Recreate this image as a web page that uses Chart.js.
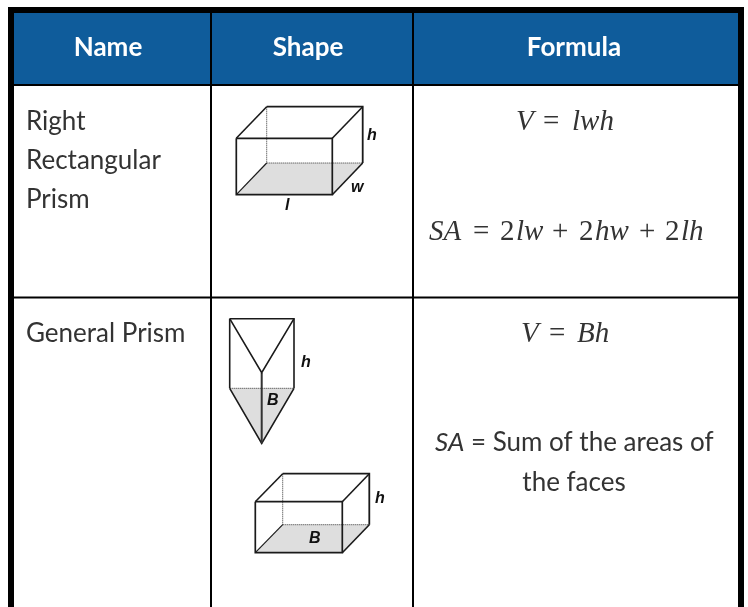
<!DOCTYPE html>
<html>
<head>
<meta charset="utf-8">
<title>Prism formulas</title>
<style>
  html, body { margin: 0; padding: 0; background: #fff; }
  canvas { display: block; }
</style>
<script src="https://cdn.jsdelivr.net/npm/chart.js@4/dist/chart.umd.min.js"></script>
</head>
<body>
<canvas id="chart" width="748" height="607"></canvas>
<script>
// table text
const columnNames = ['Name', 'Shape', 'Formula'];
const columnCenters = [108, 308, 574];
const firstRowNames = ['Right', 'Rectangular', 'Prism'];
const firstRowBaselines = [130, 169, 207.5];
const secondRowName = 'General Prism';

// rules of the table, in picture units
const tableLeft = 14, tableRight = 738, tableTop = 13, headerBottom = 85, rowRule = 297.5, tableBottom = 607;
const columnRules = [211, 413];

// prism 1 (box with l, w, h)
const box1X = [236.3, 332.3, 266.7, 362.7];
const box1Y = [138.3, 194.7, 106.7, 163];
// prism 3 (box with B, h)
const box2X = [255.3, 342.3, 282.7, 369.3];
const box2Y = [501.7, 552.7, 473.7, 524.7];
// prism 2 (triangular): left, middle, right / top, notch, base, apex
const triX = [229.7, 261.7, 294];
const triY = [318.7, 372.7, 388.3, 443.3];

// math and labels: [text, x, baseline]
const mathLetters = [
  ['V', 516, 130], ['lwh', 572, 130],
  ['SA', 429, 239.5], ['lw', 516, 239.5], ['hw', 595, 239.5], ['lh', 681, 239.5],
  ['V', 521, 342], ['Bh', 577, 342]
];
const mathSigns = [
  ['=', 543, 130], ['=', 473, 239.5], ['+', 552, 239.5], ['2', 500, 239.5], ['2', 579, 239.5],
  ['+', 639, 239.5], ['2', 665, 239.5], ['=', 549, 342]
];
const shapeLabels = [
  ['h', 367, 140], ['w', 351, 192], ['l', 285, 210],
  ['h', 301, 367], ['B', 267, 405], ['h', 375, 503], ['B', 309, 543]
];

function pts(xs, ys) { return xs.map((x, i) => ({ x: x, y: ys[i] })); }

function line(points, width, color, dash) {
  return { data: points, showLine: true, fill: false, borderColor: color, borderWidth: width, borderDash: dash || [], pointRadius: 0, borderCapStyle: 'butt' };
}

// fill between a top chain and a bottom chain (needs two datasets in a row)
function band(upper, lower, color) {
  return [
    { data: upper, showLine: true, borderWidth: 0, pointRadius: 0, backgroundColor: color, fill: '+1' },
    { data: lower, showLine: true, borderWidth: 0, pointRadius: 0, fill: false }
  ];
}

function boxLines(X, Y) {
  const ink = '#1a1a1a', hidden = '#333';
  return [
    line(pts([X[0], X[2]], [Y[0], Y[2]]), 1.6, ink),
    line(pts([X[2], X[3], X[3]], [Y[2], Y[2], Y[3]]), 1.8, ink),
    line(pts([X[1], X[3]], [Y[0], Y[2]]), 1.6, ink),
    line(pts([X[0], X[1], X[1], X[0], X[0]], [Y[0], Y[0], Y[1], Y[1], Y[0]]), 1.7, ink),
    line(pts([X[1], X[3]], [Y[1], Y[3]]), 1.6, ink),
    line(pts([X[0], X[2]], [Y[1], Y[3]]), 1.2, ink),
    line(pts([X[2], X[2]], [Y[2], Y[3]]), 1, hidden, [1, 1]),
    line(pts([X[2], X[3]], [Y[3], Y[3]]), 1, hidden, [1, 1])
  ];
}

function boxFill(X, Y) {
  return band(pts([X[0], X[2], X[3]], [Y[1], Y[3], Y[3]]), pts([X[0], X[1], X[3]], [Y[1], Y[1], Y[3]]), '#dedede');
}

// lower index draws on top in Chart.js, so rules come first and fills last
const datasets = [].concat(
  // table rules
  [
    line(pts([tableLeft, tableRight], [headerBottom, headerBottom]), 2, '#000'),
    line(pts([tableLeft, tableRight], [rowRule, rowRule]), 2, '#000'),
    line(pts([columnRules[0], columnRules[0]], [tableTop, tableBottom]), 2, '#000'),
    line(pts([columnRules[1], columnRules[1]], [tableTop, tableBottom]), 2, '#000'),
    line(pts([11, 11], [7, tableBottom]), 6, '#000'),
    line(pts([741, 741], [7, tableBottom]), 6, '#000'),
    line(pts([8, 744], [10, 10]), 6, '#000')
  ],
  // prisms
  boxLines(box1X, box1Y),
  boxLines(box2X, box2Y),
  [
    line(pts([triX[0], triX[2], triX[2]], [triY[0], triY[0], triY[2]]), 1.6, '#1a1a1a'),
    line(pts([triX[0], triX[0]], [triY[0], triY[2]]), 1.6, '#1a1a1a'),
    line(pts([triX[0], triX[1], triX[2]], [triY[0], triY[1], triY[0]]), 1.6, '#1a1a1a'),
    line(pts([triX[1], triX[1]], [triY[1], triY[3]]), 2, '#333'),
    line(pts([triX[0], triX[1], triX[2]], [triY[2], triY[3], triY[2]]), 1.6, '#1a1a1a'),
    line(pts([triX[0], triX[2]], [triY[2], triY[2]]), 1, '#333', [1, 1])
  ],
  // base shading
  boxFill(box1X, box1Y),
  boxFill(box2X, box2Y),
  band(pts([triX[0], triX[2]], [triY[2], triY[2]]), pts([triX[0], triX[1], triX[2]], [triY[2], triY[3], triY[2]]), '#dedede'),
  // header block
  band(pts([tableLeft, tableRight], [tableTop, tableTop]), pts([tableLeft, tableRight], [headerBottom, headerBottom]), '#0f5c9b')
);

const tableText = {
  id: 'tableText',
  afterDatasetsDraw(chart) {
    const c = chart.ctx, sx = chart.scales.x, sy = chart.scales.y;
    const put = (t, x, y, font, color, align) => {
      c.font = font; c.fillStyle = color; c.textAlign = align || 'left'; c.textBaseline = 'alphabetic';
      c.fillText(t, sx.getPixelForValue(x), sy.getPixelForValue(y));
    };
    const body = '26px Lato', bodyColor = '#333';
    const serifI = 'italic 29px "Liberation Serif"', serif = '29px "Liberation Serif"';
    c.save();
    columnNames.forEach((n, i) => put(n, columnCenters[i], 56, 'bold 26px Lato', '#fff', 'center'));
    firstRowNames.forEach((n, i) => put(n, 26, firstRowBaselines[i], body, bodyColor));
    put(secondRowName, 26, 342, body, bodyColor);
    mathLetters.forEach(m => put(m[0], m[1], m[2], serifI, bodyColor));
    mathSigns.forEach(m => put(m[0], m[1], m[2], serif, bodyColor));
    put('SA', 435, 451, 'italic 26px Lato', bodyColor);
    put('= Sum of the areas of', 471, 451, body, bodyColor);
    put('the faces', 574, 490.5, body, bodyColor, 'center');
    shapeLabels.forEach(l => put(l[0], l[1], l[2], 'italic bold 16px "Liberation Sans"', '#111'));
    c.restore();
  }
};

new Chart(document.getElementById('chart').getContext('2d'), {
  type: 'scatter',
  data: { datasets: datasets },
  options: {
    responsive: false,
    animation: false,
    layout: { padding: 0 },
    plugins: { legend: { display: false }, tooltip: { enabled: false } },
    scales: {
      x: { type: 'linear', min: 0, max: 748, display: false },
      y: { type: 'linear', min: 0, max: 607, reverse: true, display: false }
    }
  },
  plugins: [tableText]
});
</script>
</body>
</html>
